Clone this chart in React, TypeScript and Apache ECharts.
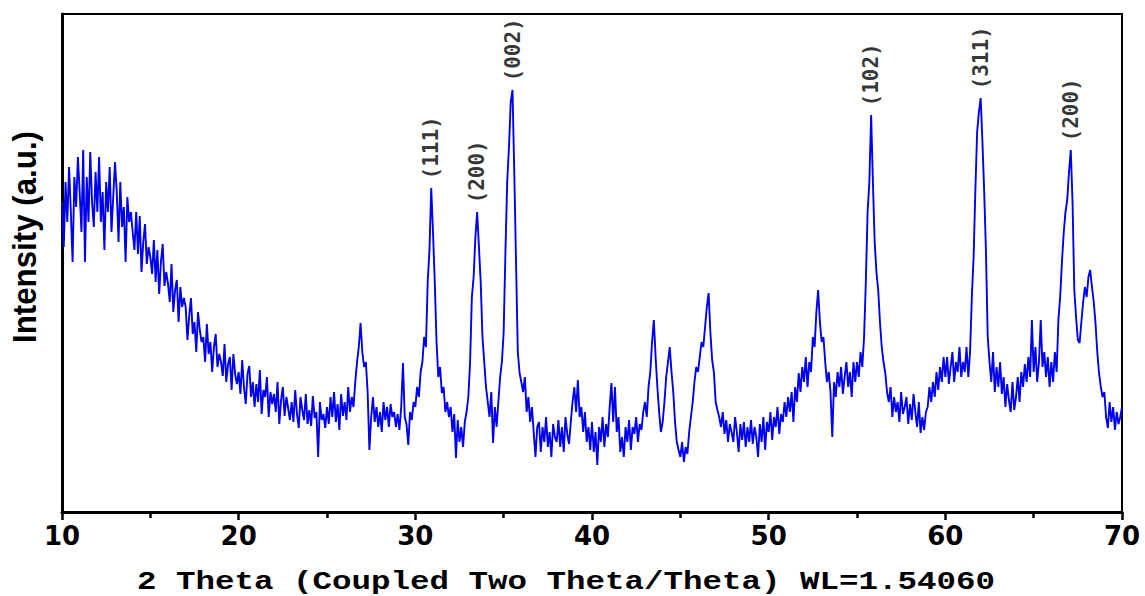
import React, { useEffect, useRef } from "react";
import * as echarts from "echarts";

// 2θ sampling of the scan
const angleStart = 10;
const angleStep = 0.1;

const intensity10to20 = [
  310, 265, 330, 290, 345, 300, 250, 335, 305, 355,
  320, 280, 362, 250, 335, 290, 360, 310, 285, 340,
  300, 355, 290, 320, 262, 330, 300, 345, 280, 315,
  350, 320, 270, 330, 285, 305, 250, 315, 290, 300,
  280, 262, 300, 258, 296, 240, 270, 288, 248, 265,
  255, 238, 272, 230, 262, 218, 250, 268, 226, 240,
  228, 210, 248, 200, 222, 232, 190, 225, 205, 214,
  205, 172, 196, 214, 178, 190, 160, 200, 182, 170,
  175, 150, 188, 158, 170, 140, 165, 178, 145, 158,
  150, 136, 168, 130, 148, 155, 122, 158, 138, 128,
];
const intensity20to30 = [
  140, 118, 152, 125, 108, 138, 146, 115, 130, 105,
  128, 110, 142, 98, 122, 115, 135, 95, 120, 108,
  118, 100, 130, 88, 112, 125, 96, 115, 104, 92,
  110, 90, 122, 98, 84, 115, 102, 92, 118, 88,
  102, 86, 116, 94, 100, 55, 110, 92, 98, 84,
  105, 88, 115, 95, 120, 90, 108, 82, 118, 96,
  110, 92, 125, 100, 115, 105, 130, 150, 165, 189,
  160, 145, 150, 120, 62, 95, 115, 90, 105, 85,
  100, 80, 110, 92, 105, 85, 108, 95, 100, 85,
  98, 82, 105, 149, 95, 88, 67, 100, 92, 110,
];
const intensity30to40 = [
  105, 125, 115, 140, 150, 175, 165, 230, 262, 324,
  280, 230, 170, 135, 145, 119, 125, 100, 110, 95,
  105, 80, 98, 54, 92, 70, 85, 65, 90, 100,
  115, 150, 215, 235, 275, 300, 265, 230, 175, 150,
  125, 110, 95, 120, 69, 105, 85, 110, 135, 150,
  180, 260, 330, 365, 410, 422, 340, 250, 160, 139,
  130, 120, 135, 100, 115, 90, 105, 80, 55, 85,
  90, 60, 85, 70, 95, 65, 80, 55, 88, 75,
  70, 92, 65, 85, 60, 95, 78, 68, 90, 110,
  125, 100, 132, 95, 105, 80, 100, 70, 85, 62,
];
const intensity40to50 = [
  90, 60, 80, 47, 85, 70, 95, 65, 88, 75,
  105, 129, 90, 125, 80, 95, 60, 75, 55, 85,
  70, 92, 62, 85, 78, 95, 70, 88, 82, 100,
  110, 95, 125, 140, 170, 192, 155, 125, 100, 80,
  90, 110, 135, 150, 165, 140, 120, 90, 70, 62,
  55, 70, 50, 65, 58, 80, 95, 110, 130, 145,
  140, 155, 170, 165, 185, 205, 219, 180, 152, 140,
  110, 102, 95, 85, 100, 78, 92, 70, 88, 80,
  70, 95, 80, 60, 88, 72, 90, 65, 85, 70,
  92, 68, 85, 75, 55, 88, 70, 95, 62, 90,
];
const intensity50to60 = [
  80, 100, 72, 95, 85, 105, 78, 98, 90, 110,
  95, 115, 100, 120, 90, 125, 110, 139, 120, 145,
  130, 155, 125, 150, 140, 175, 165, 200, 222, 190,
  170, 175, 150, 130, 140, 120, 75, 130, 115, 140,
  125, 145, 118, 135, 150, 125, 140, 115, 150, 130,
  150, 135, 160, 145, 175, 230, 300, 330, 397, 330,
  270, 240, 222, 190, 165, 150, 139, 120, 110, 125,
  95, 115, 100, 110, 90, 120, 98, 105, 115, 88,
  108, 92, 118, 100, 85, 110, 79, 95, 82, 100,
  105, 125, 110, 130, 115, 140, 122, 145, 130, 155,
];
const intensity60to70 = [
  135, 155, 128, 145, 160, 130, 150, 140, 165, 135,
  150, 140, 165, 135, 160, 215, 255, 322, 380, 400,
  414, 370, 320, 260, 175, 150, 130, 160, 120, 145,
  125, 150, 118, 135, 105, 128, 112, 100, 130, 102,
  115, 135, 110, 140, 125, 148, 130, 155, 135, 192,
  140, 165, 130, 150, 192, 145, 160, 135, 155, 125,
  150, 130, 160, 140, 192, 215, 250, 279, 300, 312,
  340, 362, 310, 222, 195, 172, 169, 190, 210, 225,
  215, 235, 242, 225, 210, 189, 160, 139, 125, 115,
  120, 95, 84, 110, 90, 105, 82, 100, 88, 95,
  105,
];

// Miller-index labels of the reflections
const peakLabels = ["(111)", "(200)", "(002)", "(102)", "(311)", "(200)"];
const peakAngles = [30.9, 33.5, 35.5, 55.8, 62.0, 67.1];
const peakIntensities = [324, 300, 422, 397, 414, 362];

const xAxisMin = 10;
const xAxisMax = 70;
const xAxisInterval = 10;
const yAxisMax = 498;

const xAxisTitle = "2 Theta (Coupled Two Theta/Theta) WL=1.54060";
const yAxisTitle = "Intensity (a.u.)";

export default function App() {
  const ref = useRef<HTMLDivElement>(null);

  useEffect(() => {
    if (!ref.current) return;
    const chart = echarts.init(ref.current, null, { renderer: "svg" });
    const intensities = [
      ...intensity10to20,
      ...intensity20to30,
      ...intensity30to40,
      ...intensity40to50,
      ...intensity50to60,
      ...intensity60to70,
    ];
    const pattern = intensities.map((v, i) => [
      Number((angleStart + i * angleStep).toFixed(1)),
      v,
    ]);
    const peaks = peakLabels.map((name, i) => ({
      name,
      value: [peakAngles[i], peakIntensities[i]],
    }));

    chart.setOption({
      animation: false,
      backgroundColor: "#ffffff",
      grid: {
        left: 62,
        right: 23,
        top: 14,
        bottom: 84,
        show: true,
        borderColor: "#000",
        borderWidth: 2,
      },
      xAxis: {
        type: "value",
        min: xAxisMin,
        max: xAxisMax,
        interval: xAxisInterval,
        axisLine: { show: true, lineStyle: { color: "#000", width: 3 } },
        axisTick: { show: true, inside: false, length: 8, lineStyle: { color: "#000", width: 2.5 } },
        minorTick: { show: true, splitNumber: 2, length: 6, lineStyle: { color: "#000", width: 2.5 } },
        splitLine: { show: false },
        axisLabel: {
          color: "#000",
          fontFamily: "DejaVu Sans",
          fontWeight: "bold",
          fontSize: 26,
          margin: 11,
        },
      },
      yAxis: {
        type: "value",
        min: 0,
        max: yAxisMax,
        axisLine: { show: true, lineStyle: { color: "#000", width: 3 } },
        axisTick: { show: false },
        axisLabel: { show: false },
        splitLine: { show: false },
      },
      series: [
        {
          type: "line",
          data: pattern,
          showSymbol: false,
          symbol: "none",
          lineStyle: { color: "#0000f0", width: 1.9 },
          z: 2,
        },
        {
          type: "scatter",
          data: peaks,
          symbolSize: 1,
          itemStyle: { color: "rgba(0,0,0,0)" },
          label: {
            show: true,
            position: "top",
            distance: 8,
            rotate: 90,
            align: "left",
            verticalAlign: "middle",
            formatter: "{b}",
            color: "#000",
            fontFamily: "DejaVu Sans Mono",
            fontWeight: "bold",
            fontSize: 21,
          },
          z: 3,
        },
      ],
      graphic: [
        {
          type: "text",
          x: 24,
          y: 237,
          rotation: Math.PI / 2,
          scaleX: 0.92,
          style: {
            text: yAxisTitle,
            font: 'bold 34px "Liberation Sans"',
            fill: "#000",
            align: "center",
            verticalAlign: "middle",
            textAlign: "center",
            textVerticalAlign: "middle",
          },
        },
        {
          type: "text",
          x: 566,
          y: 582,
          scaleX: 1.25,
          style: {
            text: xAxisTitle,
            font: 'bold 26px "Liberation Mono"',
            fill: "#000",
            align: "center",
            verticalAlign: "middle",
            textAlign: "center",
            textVerticalAlign: "middle",
          },
        },
      ],
    });

    return () => chart.dispose();
  }, []);

  return (
    <div
      ref={ref}
      style={{ position: "fixed", left: 0, top: 0, width: 1145, height: 596, background: "#fff" }}
    />
  );
}
